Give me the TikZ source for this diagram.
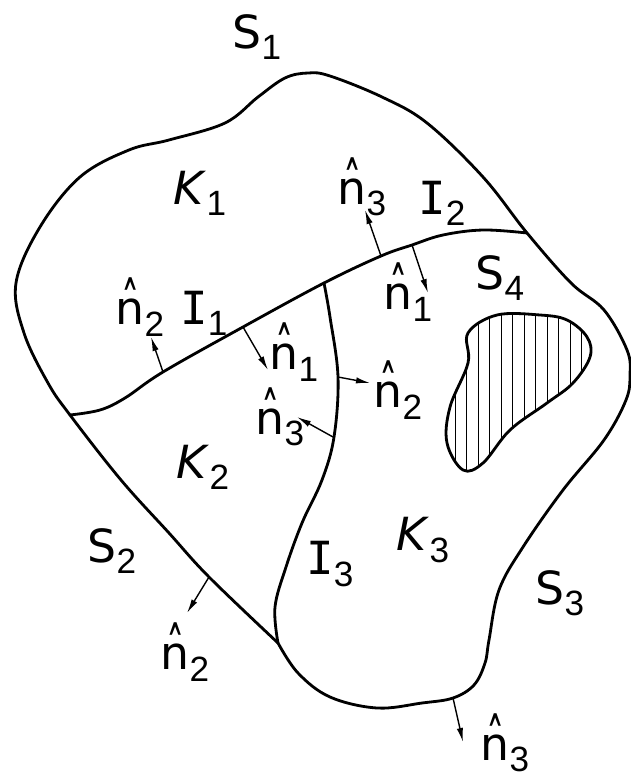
\documentclass[tikz,border=0pt]{standalone}
\usepackage{fontspec}
\setmainfont{DejaVu Sans}
\newfontfamily\serI{DejaVu Sans Mono}
\newfontfamily\digf{Liberation Sans}
\usetikzlibrary{arrows.meta}
\newcommand\lb[2]{#1\raisebox{-0.45ex}{\fontsize{20}{22}\selectfont\digf #2}}
\newcommand\hatn{\leavevmode\rlap{\hbox to 0.634em{\hss\raisebox{-0.17em}{\scalebox{0.8}[1.5]{\char"02C6}}\hss}}n}
\newcommand\nh[1]{\lb{\hatn}{#1}}
\newcommand\Kl[1]{\lb{\textit{K}}{#1}}
\newcommand\Il[1]{\lb{{\serI I}}{#1}}
\begin{document}
\begin{tikzpicture}[x=0.02cm,y=-0.02cm,
  bd/.style={line width=1.6pt, line join=round, line cap=round},
  nrm/.style={line width=0.8pt, -{Latex[length=8pt,width=3.6pt]}},
  txt/.style={font=\fontsize{26}{30}\selectfont, inner sep=0pt},
  hatch/.style={line width=0.5pt}]
\useasboundingbox (0,0) rectangle (631,783);

% outer boundary S1,S2,S3
\draw[bd] plot[smooth, tension=0.6] coordinates {(278,643) (298,673) (330,697) (377,708) (422,703) (453,698) (474,685) (485,663) (489,640) (499,590) (523,547) (563,490) (604,440) (626,400) (630,375) (627,350) (604,310) (571,283) (527,233) (483,177) (427,123) (382,97) (330,76) (308,73) (285,78) (258,97) (225,123) (169,140) (129,150) (80,177) (40,227) (16,283) (24,333) (48,383) (70,415) (121,480) (169,533) (209,577) (278,643)};

% interfaces I1, I2
\draw[bd] plot[smooth, tension=0.6] coordinates {(70,415) (100,410) (125,398) (163,372) (243,327) (324,283) (381,256) (412,245) (443,235) (483,230) (527,233)};
% interface I3
\draw[bd] plot[smooth, tension=0.6] coordinates {(324,283) (330,317) (338,377) (334,437) (322,480) (302,523) (286,567) (275,607) (278,643)};

% hole S4
\def\holepath{plot[smooth cycle, tension=0.6] coordinates {(497,315) (540,315) (567,320) (587,337) (590,357) (573,383) (547,403) (510,430) (483,463) (463,470) (447,443) (450,407) (468,363) (468,333)}}
\begin{scope}
\clip \holepath;
\foreach \x in {455,466.5,...,592} \draw[hatch] (\x,300) -- (\x,480);
\end{scope}
\draw[bd] \holepath;

% normals
\coordinate (a1) at (381,256); \coordinate (t1) at (365,210);
\coordinate (a2) at (412,245); \coordinate (t2) at (428,293);
\coordinate (a3) at (163,372); \coordinate (t3) at (151,337);
\coordinate (a4) at (243,327); \coordinate (t4) at (268,370);
\coordinate (a5) at (338,377); \coordinate (t5) at (370,383);
\coordinate (a6) at (333,437); \coordinate (t6) at (297,417);
\coordinate (a7) at (209,577); \coordinate (t7) at (187,613);
\coordinate (a8) at (453,698); \coordinate (t8) at (463,742);
\foreach \i in {1,...,8} \draw[nrm] (a\i) -- (t\i);

% labels
\node[txt] (S1) at (257,37) {\lb{S}{1}};
\node[txt] (K1) at (200,193) {\Kl{1}};
\node[txt] (n3a) at (362,187) {\nh{3}};
\node[txt] (I2) at (442,203) {\Il{2}};
\node[txt] (n1a) at (408,292) {\nh{1}};
\node[txt] (S4) at (500,278) {\lb{S}{4}};
\node[txt] (n2a) at (140,307) {\nh{2}};
\node[txt] (I1) at (204,313) {\Il{1}};
\node[txt] (n1b) at (294,352) {\nh{1}};
\node[txt] (n2b) at (398,390) {\nh{2}};
\node[txt] (n3b) at (280,417) {\nh{3}};
\node[txt] (K2) at (203,467) {\Kl{2}};
\node[txt] (S2) at (112,551) {\lb{S}{2}};
\node[txt] (I3) at (330,564) {\Il{3}};
\node[txt] (K3) at (423,540) {\Kl{3}};
\node[txt] (S3) at (560,593) {\lb{S}{3}};
\node[txt] (n2c) at (185,652) {\nh{2}};
\node[txt] (n3c) at (505,743) {\nh{3}};
\end{tikzpicture}
\end{document}
